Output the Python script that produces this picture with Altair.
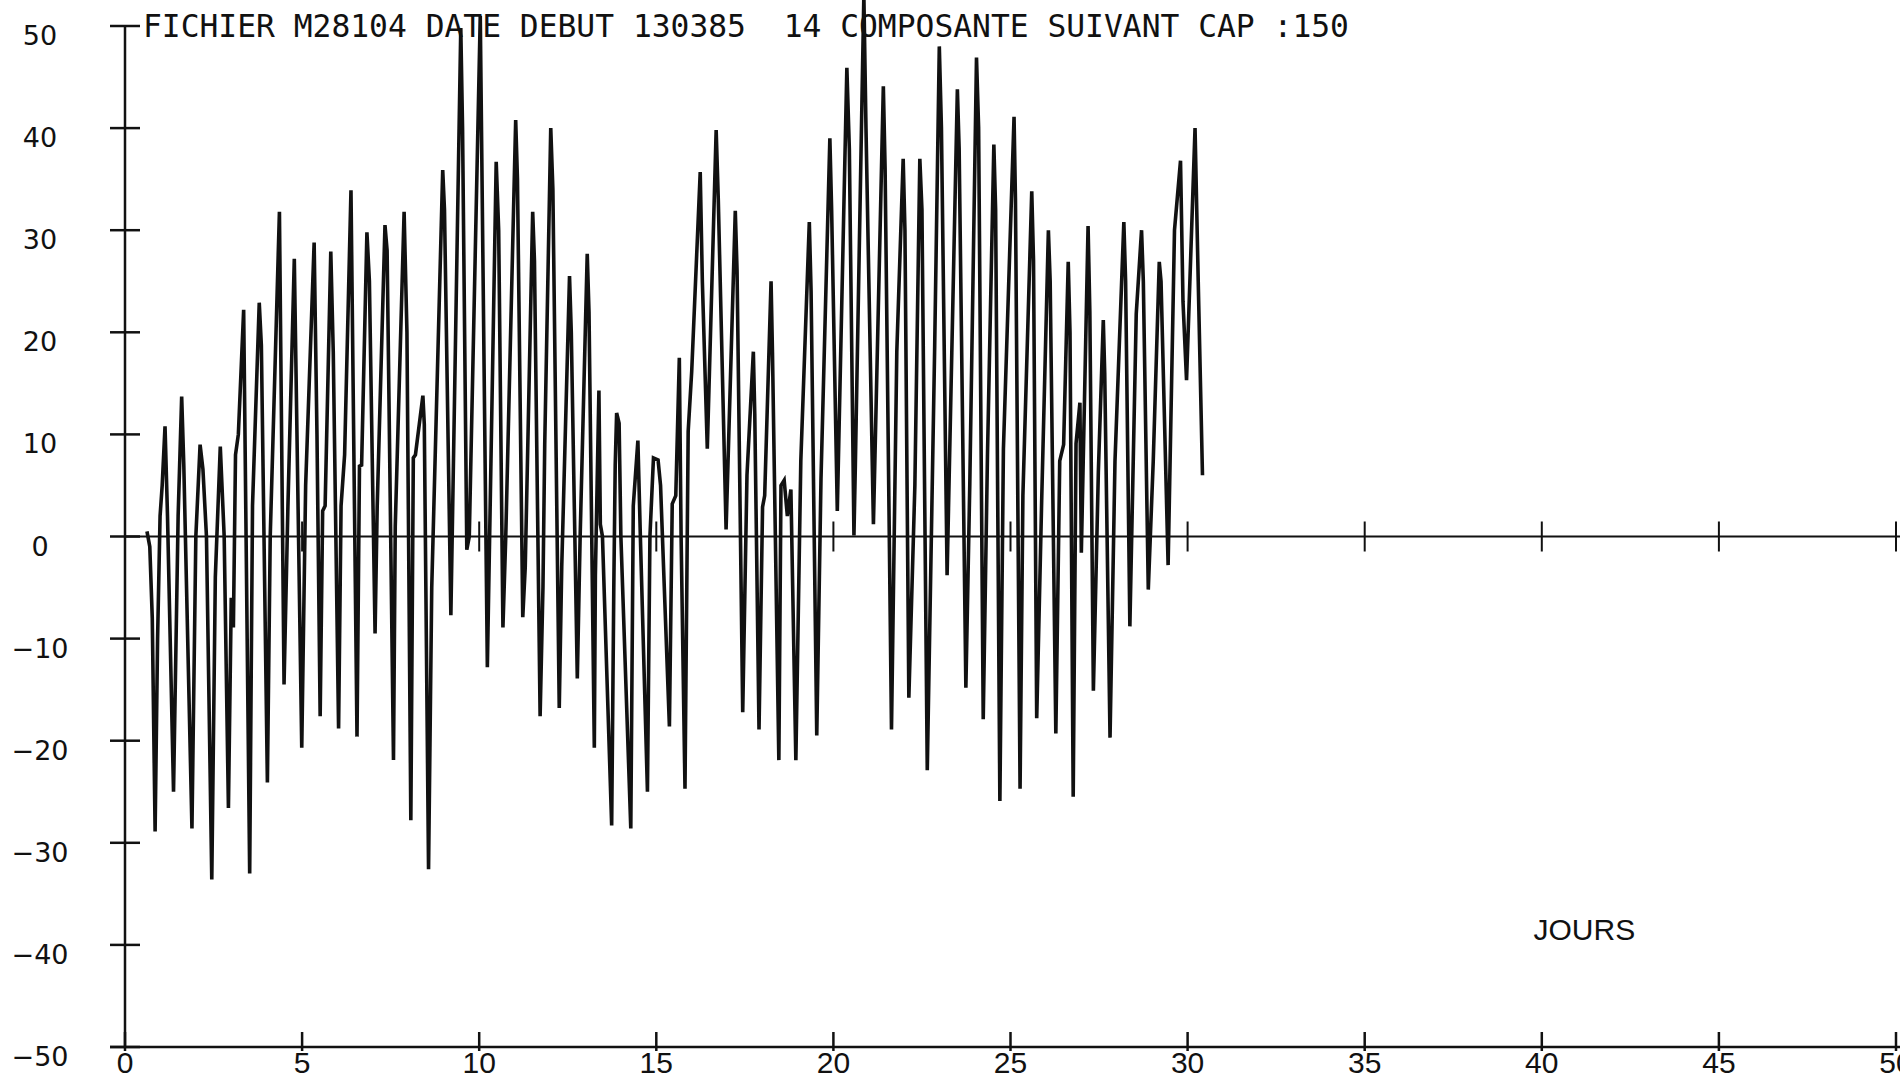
import altair as alt
import pandas as pd

# Current component along heading 150 (tidal record), time in days
days = [
    0.62, 0.70, 0.77, 0.85, 0.92, 0.99, 1.05, 1.13, 1.20, 1.37, 1.50, 1.60, 1.66, 1.89,
    2.00, 2.12, 2.20, 2.30, 2.45, 2.55, 2.69, 2.80, 2.92, 3.00, 3.06, 3.12, 3.20, 3.35,
    3.52, 3.60, 3.79, 3.85, 4.02, 4.10, 4.36, 4.49, 4.60, 4.78, 4.99,
    5.10, 5.34, 5.42, 5.51, 5.58, 5.65, 5.81, 5.88, 6.03, 6.10, 6.20, 6.38, 6.55, 6.62,
    6.68, 6.83, 6.90, 7.06, 7.12, 7.34, 7.40, 7.58, 7.63, 7.88, 7.96, 8.07, 8.14, 8.20,
    8.41, 8.45, 8.57, 8.66, 8.97, 9.02, 9.20, 9.48, 9.53, 9.65, 9.72, 10.03, 10.23,
    10.48, 10.55, 10.67, 10.75, 11.03, 11.08, 11.23, 11.30, 11.51, 11.56, 11.72, 11.80,
    11.85, 12.02, 12.08, 12.26, 12.33, 12.55, 12.60, 12.77, 12.85, 13.05, 13.10, 13.25,
    13.28, 13.33, 13.38, 13.42, 13.48, 13.74, 13.80, 13.84, 13.88, 13.95, 14.00, 14.28,
    14.35, 14.48, 14.55, 14.75, 14.82, 14.92, 15.05, 15.12, 15.37,
    15.45, 15.55, 15.65, 15.70, 15.81, 15.90, 16.00, 16.24, 16.30, 16.44, 16.69, 16.75,
    16.97, 17.23, 17.28, 17.44, 17.56, 17.74, 17.78, 17.90, 18.00, 18.06, 18.24, 18.28,
    18.46, 18.52, 18.61, 18.70, 18.80, 18.94, 19.08, 19.32, 19.37, 19.53, 19.65, 19.90,
    19.95, 20.11, 20.38,
    20.45, 20.58, 20.62, 20.86, 20.92, 21.13, 21.41, 21.46, 21.64, 21.79, 21.97, 22.02,
    22.13, 22.30, 22.44, 22.50, 22.65, 22.86, 22.99, 23.05, 23.21, 23.50, 23.55, 23.74,
    23.85, 24.04, 24.10, 24.23, 24.35, 24.53, 24.58, 24.70, 24.80, 25.10, 25.14, 25.27,
    25.35, 25.60,
    25.65, 25.74, 25.88, 26.07, 26.12, 26.28, 26.39, 26.50, 26.63, 26.68, 26.77, 26.85,
    26.96, 27.00, 27.19, 27.24, 27.34, 27.48, 27.62, 27.66, 27.81, 27.95, 28.20, 28.25,
    28.37, 28.55, 28.70, 28.75, 28.89, 29.03, 29.20, 29.25, 29.45, 29.63, 29.80, 29.87,
    29.97, 30.21, 30.30, 30.42,
]
values = [
    0.5, -1, -8, -28.9, -10, 2, 5, 10.8, 2, -25, 2, 13.7, 7, -28.6,
    0, 9.0, 6.6, 0, -33.6, -4, 8.8, 0, -26.6, -6, -8.9, 8.0, 10, 22.2,
    -33, 3, 22.9, 18.7, -24.1, 0, 31.8, -14.5, 3, 27.2, -20.7,
    5, 28.8, 10, -17.6, 2.5, 3, 27.9, 18, -18.8, 3, 8, 33.9, -19.6, 6.9,
    7, 29.8, 25, -9.5, 2.9, 30.5, 28, -21.9, 1, 31.8, 20, -27.8, 7.7, 8,
    13.8, 11, -32.6, -5, 35.9, 32, -7.7, 49.8, 40, -1.3, 0, 51, -12.8,
    36.7, 30, -8.9, 0, 40.8, 35, -7.9, -3, 31.8, 27, -17.6, -5,
    9, 40.0, 34, -16.8, -3, 25.5, 20, -13.9, 0, 27.7, 22, -20.7,
    -3.8, 5.2, 14.3, 1.2, 0, -28.3, -5, 7, 12.1, 11.1, 0, -28.6,
    3, 9.4, 0, -25.0, 0, 7.7, 7.5, 5, -18.6,
    3.2, 4, 17.5, 0, -24.7, 10.3, 16.2, 35.7, 25, 8.6, 39.8, 33,
    0.7, 31.9, 26, -17.2, 6, 18.1, 12, -18.9, 2.9, 4, 25.0, 18,
    -21.9, 5, 5.5, 2, 4.6, -21.9, 7.4, 30.8, 24, -19.5, 5.7, 39.0,
    32, 2.5, 45.9,
    38, 0.1, 7, 53, 40, 1.2, 44.1, 36, -18.9, 18.1, 37.0, 30,
    -15.8, 5, 37.0, 32, -22.9, 18.7, 48.0, 40, -3.8, 43.8, 38, -14.8,
    5, 46.9, 40, -17.9, 8, 38.4, 32, -25.9, 8.6, 41.1, 33, -24.7,
    4, 33.8,
    27, -17.8, 3.5, 30.0, 25, -19.3, 7.4, 9, 26.9, 20, -25.5, 9.1,
    13.1, -1.6, 30.4, 22, -15.1, 6.3, 21.2, 16, -19.7, 7.4, 30.8, 25,
    -8.8, 21.8, 30.0, 25, -5.2, 7.4, 26.9, 25, -2.8, 30, 36.8, 23,
    15.3, 40.0, 25, 6.0,
]

y_ticks = [50, 40, 30, 20, 10, 0, -10, -20, -30, -40, -50]
x_ticks = [0, 5, 10, 15, 20, 25, 30, 35, 40, 45, 50]
title_text = "FICHIER M28104 DATE DEBUT 130385\u00a0 14 COMPOSANTE SUIVANT CAP :150"
x_title = "JOURS"

INK = "#111111"
LABEL_FONT = "Liberation Sans, Arial, sans-serif"

xs = alt.Scale(domain=[0, 50], nice=False, zero=False)
ys = alt.Scale(domain=[-50, 50], nice=False, zero=False)

series = pd.DataFrame({"jour": days, "v": values})
ytick_df = pd.DataFrame({"x": [0] * len(y_ticks), "y": y_ticks})
xtick_df = pd.DataFrame({"x": x_ticks, "y": [-50] * len(x_ticks)})
ztick_df = pd.DataFrame({"x": x_ticks[1:], "y": [0] * (len(x_ticks) - 1)})
frame_df = pd.DataFrame({"x": [0], "x2": [50], "y": [-50], "y2": [50], "z": [0]})

X = lambda f: alt.X(f, type="quantitative", scale=xs, axis=None)
Y = lambda f: alt.Y(f, type="quantitative", scale=ys, axis=None)

# vertical axis line
y_axis = alt.Chart(frame_df).mark_rule(color=INK, strokeWidth=2.5).encode(
    x=X("x"), y=Y("y"), y2="y2"
)
# horizontal axis at -50, starting just left of the vertical axis
x_axis = alt.Chart(frame_df).mark_rule(
    color=INK, strokeWidth=2.5, xOffset=-15, x2Offset=10
).encode(x=X("x"), x2="x2", y=Y("y"))
# zero line
zero_line = alt.Chart(frame_df).mark_rule(color=INK, strokeWidth=2, x2Offset=10).encode(
    x=X("x"), x2="x2", y=Y("z")
)

# crossing tick marks
y_tick_marks = alt.Chart(ytick_df).mark_rule(
    color=INK, strokeWidth=2.5, xOffset=-15, x2Offset=15
).encode(x=X("x"), x2="x", y=Y("y"))
x_tick_marks = alt.Chart(xtick_df).mark_rule(
    color=INK, strokeWidth=2.5, yOffset=-15, y2Offset=4
).encode(x=X("x"), y=Y("y"), y2="y")
z_tick_marks = alt.Chart(ztick_df).mark_rule(
    color=INK, strokeWidth=2, yOffset=-15, y2Offset=15
).encode(x=X("x"), y=Y("y"), y2="y")

# tick labels
y_labels = alt.Chart(ytick_df).mark_text(
    font="DejaVu Sans", fontSize=27, color=INK, align="center", baseline="middle",
    dx=-85, dy=11
).encode(x=X("x"), y=Y("y"), text=alt.Text("y:Q", format="d"))
x_labels = alt.Chart(xtick_df).mark_text(
    font=LABEL_FONT, fontSize=30, color=INK, align="center", baseline="top", dy=2
).encode(x=X("x"), y=Y("y"), text=alt.Text("x:Q", format="d"))

# header line written next to the top of the vertical axis
header = alt.Chart(pd.DataFrame({"x": [0], "y": [50], "t": [title_text]})).mark_text(
    font="DejaVu Sans Mono", fontSize=31.3, color=INK, align="left",
    baseline="alphabetic", dx=18, dy=11
).encode(x=X("x"), y=Y("y"), text="t:N")

# unit label
jours = alt.Chart(pd.DataFrame({"x": [41.2], "y": [-38.6], "t": [x_title]})).mark_text(
    font=LABEL_FONT, fontSize=30, color=INK, align="center", baseline="middle"
).encode(x=X("x"), y=Y("y"), text="t:N")

# the record itself
trace = alt.Chart(series).mark_line(
    color=INK, strokeWidth=3.6, strokeJoin="miter", strokeMiterLimit=4
).encode(x=X("jour"), y=Y("v"), order="jour:Q")

chart = alt.layer(
    zero_line, z_tick_marks, trace, y_axis, x_axis, y_tick_marks, x_tick_marks,
    y_labels, x_labels, header, jours
).properties(
    width=1771,
    height=1021,
    padding={"left": 125, "right": 4, "top": 26, "bottom": 36},
    autosize=alt.AutoSizeParams(type="none"),
    background="white",
).configure_view(stroke=None)

chart.save("out.html", embed_options={"renderer": "svg", "actions": False})
